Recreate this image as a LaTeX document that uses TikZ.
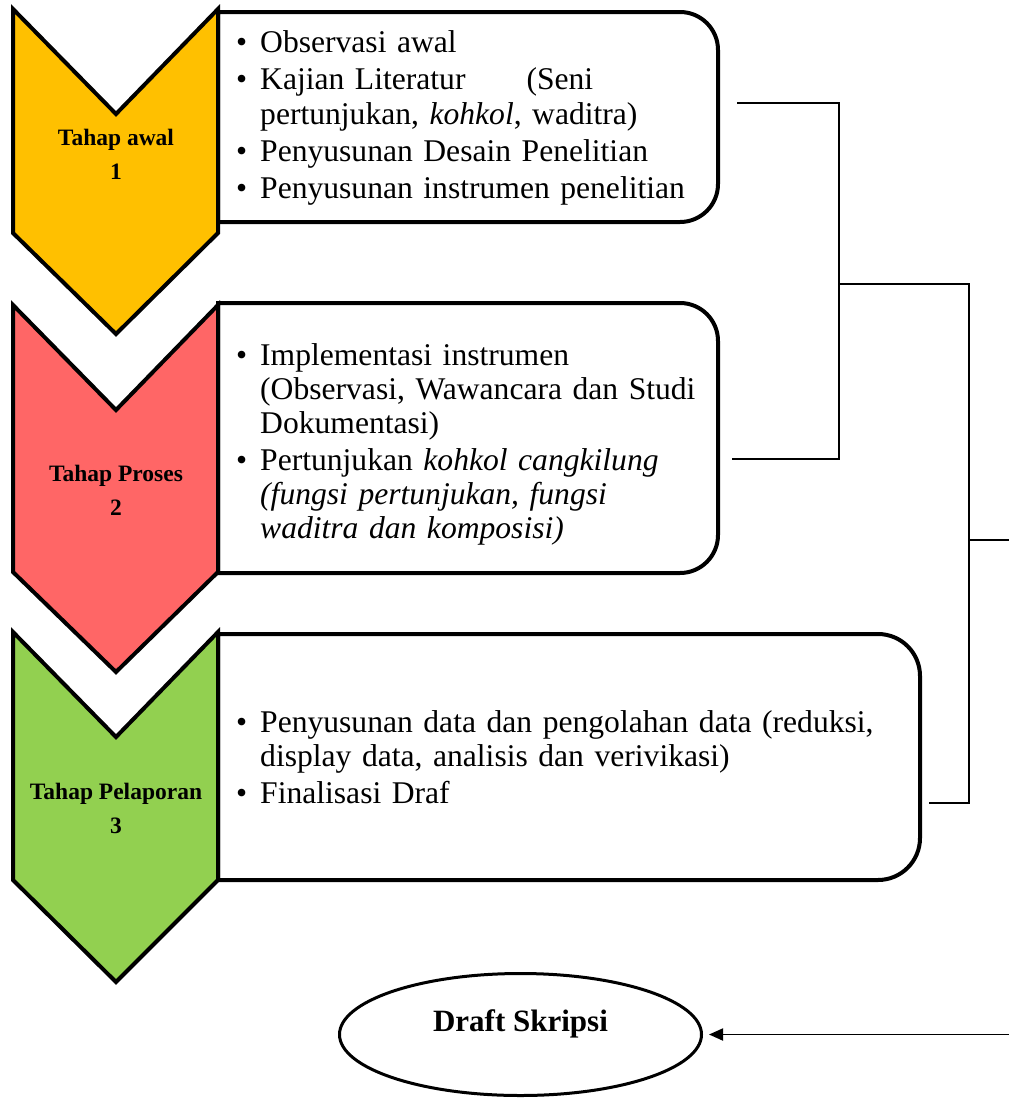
\documentclass[tikz,border=0pt]{standalone}
\usepackage{fontspec}
\setmainfont{Liberation Serif}
\usetikzlibrary{arrows.meta,shapes.geometric}
\definecolor{kuning}{HTML}{FFC000}
\definecolor{merah}{HTML}{FF6666}
\definecolor{hijau}{HTML}{92D050}
\newcommand{\butir}{\hangindent=24pt\hangafter=1\noindent\makebox[24pt][l]{\rule{0pt}{22pt}\textbullet}}

\begin{document}
\begin{tikzpicture}[x=1pt,y=-1pt,
	panah/.style={line width=4pt,draw=black,line join=miter},
	kotak/.style={line width=4pt,draw=black,fill=white},
	garis/.style={line width=1.9pt},
	isi/.style={anchor=north west,inner sep=0pt,text width=700pt,align=left,font=\fontsize{31.6}{34}\selectfont},
	tahap/.style={anchor=north,inner sep=0pt,align=center,font=\fontsize{23.5}{34}\selectfont\bfseries}]
	\useasboundingbox (0,0) rectangle (1009,1100);
	\draw[kotak] (218,12) -- (680,12) arc(-90:0:38) -- (718,184) arc(0:90:38) -- (218,222) -- cycle;
	\draw[kotak] (218,303) -- (680,303) arc(-90:0:38) -- (718,535) arc(0:90:38) -- (218,573) -- cycle;
	\draw[kotak] (218,634) -- (878,634) arc(-90:0:42) -- (920,838) arc(0:90:42) -- (218,880) -- cycle;
	\draw[panah,fill=kuning] (13,9) -- (116,114) -- (218,9) -- (218,233) -- (116,334) -- (13,233) -- cycle;
	\draw[panah,fill=merah] (13,305) -- (116,410) -- (218,305) -- (218,572) -- (116,672) -- (13,572) -- cycle;
	\draw[panah,fill=hijau] (13,632) -- (116,737) -- (218,632) -- (218,880) -- (116,982) -- (13,880) -- cycle;
	\node[tahap] (tahap1) at (116,129) {\rule{0pt}{16pt}Tahap awal\\1};
	\node[tahap] (tahap2) at (116,465) {\rule{0pt}{16pt}Tahap Proses\\2};
	\node[tahap] (tahap3) at (116,783) {\rule{0pt}{16pt}Tahap Pelaporan\\3};
	\node[isi] (isi1) at (236,30) {\baselineskip=35.5pt\parskip=1.5pt\relax
		\butir Observasi awal\par
		\butir Kajian Literatur\hspace{61pt}(Seni\newline pertunjukan, \textit{kohkol}, waditra)\par
		\butir Penyusunan Desain Penelitian\par
		\butir Penyusunan instrumen penelitian\par};
	\node[isi] (isi2) at (236,343) {\parskip=3.5pt\relax
		\butir Implementasi instrumen\newline (Observasi, Wawancara dan Studi\newline Dokumentasi)\par
		\butir Pertunjukan \textit{kohkol cangkilung\newline (fungsi pertunjukan, fungsi\newline waditra dan komposisi)}\par};
	\node[isi] (isi3) at (236,710) {\parskip=3.5pt\relax
		\butir Penyusunan data dan pengolahan data (reduksi,\newline display data, analisis dan verivikasi)\par
		\butir Finalisasi Draf\par};
	\node[draw,ellipse,line width=3pt,minimum width=362pt,minimum height=122pt,inner sep=0pt,text height=22pt,text depth=28pt,font=\fontsize{31}{36}\selectfont\bfseries] (draft) at (520.5,1034.5) {Draft Skripsi};
	\coordinate (s1) at (737,103);
	\coordinate (t1) at (839,103);
	\coordinate (t2) at (839,459);
	\coordinate (s2) at (732,459);
	\draw[garis] (s1) -- (t1) -- (t2) -- (s2);
	\coordinate (m1) at (839,284);
	\coordinate (m2) at (969,284);
	\coordinate (m3) at (969,803);
	\coordinate (s3) at (929,803);
	\draw[garis] (m1) -- (m2) -- (m3) -- (s3);
	\coordinate (m4) at (969,540);
	\coordinate (m5) at (1009,540);
	\draw[garis] (m4) -- (m5);
	\coordinate (m6) at (1009,1034.5);
	\draw[garis,-{Triangle[length=14pt,width=12pt]},shorten >=6pt] (m6) -- (draft.east);
\end{tikzpicture}
\end{document}
